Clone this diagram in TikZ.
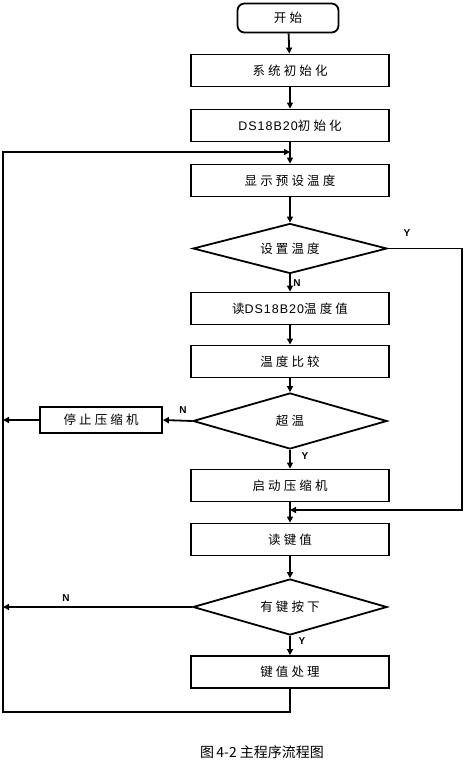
\documentclass[tikz,border=0pt]{standalone}
\usepackage{fontspec}
\setmainfont{Liberation Sans}
\newfontfamily\cjk[LetterSpace=25]{Noto Sans CJK SC}
\newfontfamily\capfont{Noto Sans CJK SC}
\newfontfamily\lat[LetterSpace=8]{Liberation Sans}
\usetikzlibrary{shapes.geometric,arrows.meta}
\begin{document}
\begin{tikzpicture}[x=1pt,y=-1pt,
  line width=1.8pt,
  base/.style={draw,line width=1.8pt,inner sep=0pt,font=\fontsize{12.5}{14}\selectfont\cjk},
  proc/.style={base,rectangle,minimum width=198pt,minimum height=32pt},
  startbox/.style={base,rectangle,rounded corners=7pt,minimum width=101pt,minimum height=29pt},
  decide/.style={base,diamond,aspect=3.6,minimum width=194pt,minimum height=52pt},
  lbl/.style={font=\fontsize{10}{11}\selectfont\bfseries},
  arr/.style={-{Triangle[length=6pt,width=6pt]}}]
\useasboundingbox (0,0) rectangle (465,775);
\node[startbox] (start) at (288,18) {开始};
\node[proc] (sys) at (290,70.5) {系统初始化};
\node[proc] (ds) at (290,125.5) {{\lat DS18B20}初始化};
\node[proc] (disp) at (290,180.5) {显示预设温度};
\node[decide,minimum height=50pt] (d1) at (290,248.5) {设置温度};
\node[proc] (read) at (290,308.5) {读{\lat DS18B20}温度值};
\node[proc] (cmp) at (290,361.5) {温度比较};
\node[decide,minimum height=56pt] (d2) at (290,421) {超温};
\node[proc,minimum width=122pt,minimum height=26pt] (stop) at (101,420) {停止压缩机};
\node[proc] (startc) at (290,485.5) {启动压缩机};
\node[proc] (rkey) at (290,539.5) {读键值};
\node[decide,minimum height=56pt] (d3) at (290,607) {有键按下};
\node[proc] (kp) at (290,672) {键值处理};
\node[font=\fontsize{14}{16}\selectfont\capfont] (cap) at (262,752) {图\,4-2 主程序流程图};

\coordinate (j1) at (290,152);
\coordinate (j2) at (290,510);
\coordinate (r1) at (462,248.5);
\coordinate (r2) at (462,510);
\coordinate (lstop) at (3,420);
\coordinate (lkey) at (3,607);
\coordinate (b1) at (290,712);
\coordinate (b2) at (3,712);
\coordinate (b3) at (3,152);

\draw[arr] (start) -- (sys);
\draw[arr] (sys) -- (ds);
\draw[arr] (ds) -- (disp);
\draw[arr] (disp) -- (d1);
\draw[arr] (d1) -- (read);
\draw[arr] (read) -- (cmp);
\draw[arr] (cmp) -- (d2);
\draw[arr] (d2.west) -- (stop.east);
\draw[arr] (stop.west) -- (lstop);
\draw[arr] (d2) -- (startc);
\draw[arr] (startc) -- (rkey);
\draw[arr] (d1.east) -- (r1) -- (r2) -- (j2);
\draw[arr] (rkey) -- (d3);
\draw[arr] (d3.west) -- (lkey);
\draw[arr] (d3) -- (kp);
\draw[arr] (kp) -- (b1) -- (b2) -- (b3) -- (j1);

\node[lbl] (ly1) at (407,233) {Y};
\node[lbl] (ln1) at (297,283) {N};
\node[lbl] (ln2) at (183,410) {N};
\node[lbl] (ly2) at (305,456) {Y};
\node[lbl] (ln3) at (66,598) {N};
\node[lbl] (ly3) at (302,641) {Y};
\end{tikzpicture}
\end{document}
